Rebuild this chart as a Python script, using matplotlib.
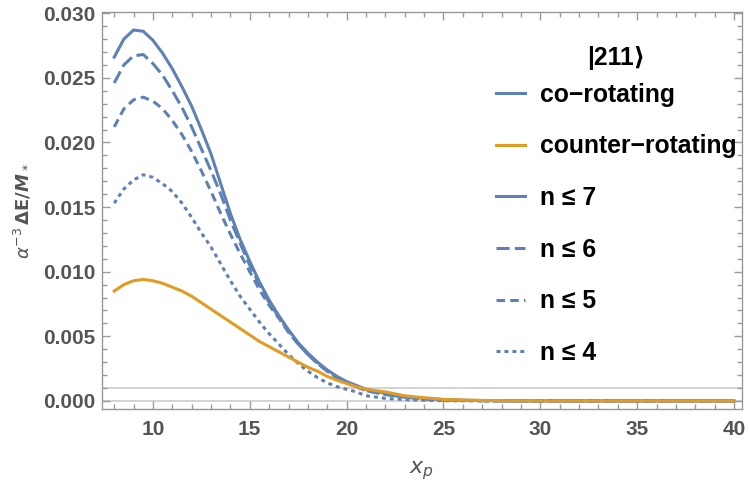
import numpy as np
import matplotlib
matplotlib.use("Agg")
import matplotlib.pyplot as plt
from matplotlib.ticker import MultipleLocator, FormatStrFormatter

# x grid of the curves
x_p = [8.0, 8.5, 9.0, 9.5, 10.0, 10.5, 11.0, 11.5, 12.0, 12.5, 13.0, 13.5,
       14.0, 14.5, 15.0, 15.5, 16.0, 16.5, 17.0, 17.5, 18.0, 18.5, 19.0,
       19.5, 20.0, 20.5, 21, 22, 23, 24, 25, 26, 27, 28, 29, 30, 32, 34,
       36, 38, 40]

# co-rotating, summed up to n <= 7, 6, 5, 4
n7 = [0.0266, 0.0280, 0.0287, 0.0286, 0.0279, 0.0269, 0.0257, 0.0243,
      0.0228, 0.0210, 0.0191, 0.0168, 0.0145, 0.0125, 0.0108, 0.0092,
      0.0078, 0.0066, 0.0055, 0.0045, 0.0037, 0.0030, 0.0024, 0.0019,
      0.0015, 0.0012, 0.0009, 0.0006, 0.00035, 0.0002, 0.0001, 0.00005,
      0.00003, 0.00001, 0, 0, 0, 0, 0, 0, 0]
n6 = [0.0246, 0.0260, 0.0267, 0.0268, 0.0261, 0.0252, 0.0240, 0.0227,
      0.0212, 0.0195, 0.0178, 0.0160, 0.0140, 0.0122, 0.0105, 0.0090,
      0.0076, 0.0065, 0.0054, 0.0044, 0.0036, 0.0029, 0.0023, 0.0018,
      0.0014, 0.0011, 0.0008, 0.0005, 0.0003, 0.00015, 0.00008, 0.00004,
      0.00002, 0.00001, 0, 0, 0, 0, 0, 0, 0]
n5 = [0.0212, 0.0226, 0.0233, 0.0235, 0.0232, 0.0226, 0.0217, 0.0206,
      0.0193, 0.0178, 0.0162, 0.0145, 0.0129, 0.0114, 0.0100, 0.0086,
      0.0074, 0.0064, 0.0053, 0.0044, 0.0036, 0.0029, 0.0023, 0.0018,
      0.0014, 0.0011, 0.0008, 0.0005, 0.0003, 0.00015, 0.00008, 0.00004,
      0.00002, 0.00001, 0, 0, 0, 0, 0, 0, 0]
n4 = [0.0153, 0.0164, 0.0171, 0.0175, 0.0173, 0.0168, 0.0162, 0.0153,
      0.0142, 0.0130, 0.0119, 0.0106, 0.0093, 0.0081, 0.0071, 0.0061,
      0.0052, 0.0044, 0.0036, 0.0029, 0.0023, 0.0018, 0.0014, 0.0011,
      0.0009, 0.0007, 0.0004, 0.0002, 0.0001, 0.00005, 0.00002, 0.00001,
      0, 0, 0, 0, 0, 0, 0, 0, 0]
counter = [0.0085, 0.0090, 0.0093, 0.0094, 0.0093, 0.0091, 0.0088, 0.0085,
           0.0081, 0.0076, 0.0071, 0.0066, 0.0061, 0.0056, 0.0051, 0.0046,
           0.0042, 0.0038, 0.0034, 0.0030, 0.0026, 0.0023, 0.0019, 0.0016,
           0.00135, 0.0011, 0.0009, 0.0007, 0.0004, 0.00025, 0.00012,
           0.00007, 0.00004, 0.00002, 0.00001, 0, 0, 0, 0, 0, 0]

blue = "#5E81B5"
orange = "#E19C24"
gray = "#555555"
bold = {"family": ["Liberation Sans", "DejaVu Sans"], "weight": "bold"}
d6 = (4.3, 1.7)
d5 = (2.8, 1.7)
d4 = (1.3, 1.3)

fig = plt.figure(figsize=(7.5, 4.86), dpi=100)
ax = fig.add_axes([0.136, 0.158, 0.853, 0.817])

ax.axhline(0.0, color="#cccccc", lw=1.2, zorder=1)
ax.axhline(0.001, color="#cccccc", lw=1.2, zorder=1)

lw = 2.2
ax.plot(x_p, n7, color=blue, lw=lw, zorder=3)
ax.plot(x_p, n6, color=blue, lw=lw, dashes=d6, zorder=3)
ax.plot(x_p, n5, color=blue, lw=lw, dashes=d5, zorder=3)
ax.plot(x_p, n4, color=blue, lw=lw, dashes=d4, zorder=3)
ax.plot(x_p, counter, color=orange, lw=lw, zorder=4)

# legend handles
h_co, = ax.plot([], [], color=blue, lw=lw)
h_cn, = ax.plot([], [], color=orange, lw=lw)
h7, = ax.plot([], [], color=blue, lw=lw)
h6, = ax.plot([], [], color=blue, lw=lw, dashes=d6)
h5, = ax.plot([], [], color=blue, lw=lw, dashes=d5)
h4, = ax.plot([], [], color=blue, lw=lw, dashes=d4)
labels = ["co\u2212rotating", "counter\u2212rotating", "n \u2264 7",
          "n \u2264 6", "n \u2264 5", "n \u2264 4"]
leg = ax.legend([h_co, h_cn, h7, h6, h5, h4], labels,
                loc="upper left", bbox_to_anchor=(0.661, 0.905),
                bbox_transform=fig.transFigure, frameon=False,
                borderpad=0, borderaxespad=0, handlelength=1.17,
                handletextpad=0.6, labelspacing=1.12,
                prop=dict(size=17.8, **bold),
                title="|211\u27e9", title_fontproperties=dict(size=17.8, **bold))
leg._legend_box.sep = 9

ax.set_xlim(7.37, 40.4)
ax.set_ylim(-0.00064, 0.03008)
ax.xaxis.set_major_locator(MultipleLocator(5))
ax.xaxis.set_minor_locator(MultipleLocator(1))
ax.yaxis.set_major_locator(MultipleLocator(0.005))
ax.yaxis.set_minor_locator(MultipleLocator(0.001))
ax.yaxis.set_major_formatter(FormatStrFormatter("%.3f"))

ax.tick_params(which="both", direction="in", top=True, right=True,
               color="#999999", labelcolor=gray, width=1)
ax.tick_params(which="major", length=6)
ax.tick_params(which="minor", length=3.5)
ax.tick_params(axis="x", pad=8)
ax.tick_params(axis="y", pad=5)
for lab in ax.get_xticklabels() + ax.get_yticklabels():
    lab.set_fontproperties(dict(size=15, **bold))
for s in ax.spines.values():
    s.set_color("#999999")
    s.set_linewidth(1)

ax.set_ylabel(r"$\alpha^{-3}\,\mathbf{\Delta E/}\mathbfit{M}_*$",
              color=gray, fontsize=13)
ax.yaxis.set_label_coords(-0.109, 0.5)
ax.set_xlabel(r"$x_p$", color=gray, fontsize=16)
ax.xaxis.set_label_coords(0.5, -0.125)

fig.savefig("out.png", dpi=100)
